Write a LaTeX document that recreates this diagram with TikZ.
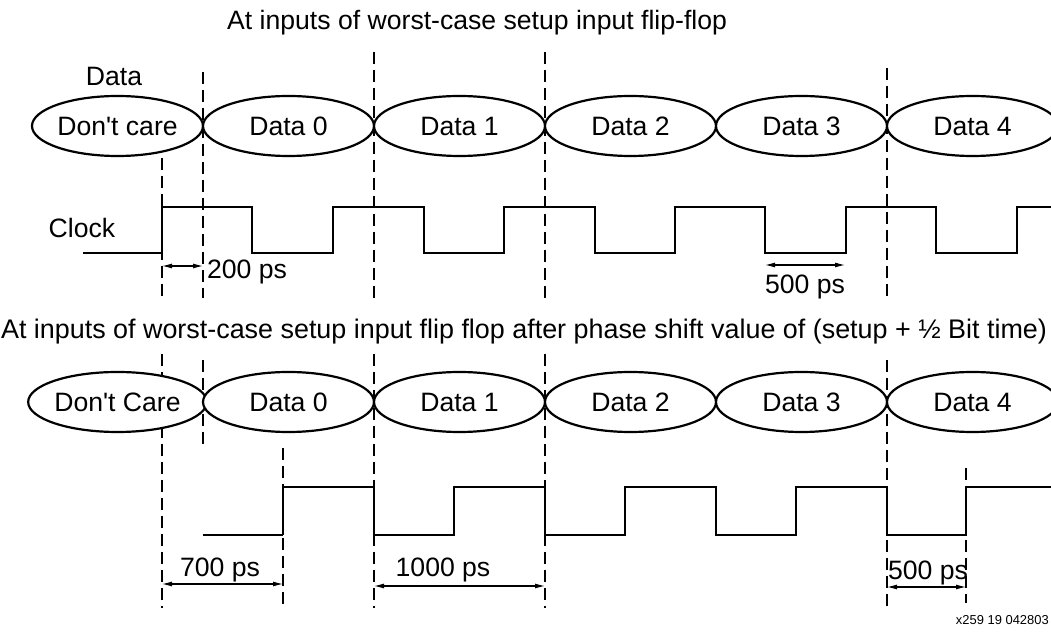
\documentclass[tikz,border=0pt]{standalone}
\usepackage{fontspec}
\setmainfont{Liberation Sans}
\usetikzlibrary{shapes.geometric,arrows.meta}
\tikzset{
  databox/.style={ellipse,draw,fill=white,line width=2.2bp,minimum width=171bp,minimum height=60bp,inner sep=0pt},
  clockline/.style={line width=2.2bp,line join=miter},
  guide/.style={line width=1.1bp,dash pattern=on 12bp off 6bp},
  dimline/.style={line width=1.1bp,<->},
  lbl/.style={draw=none,inner sep=0pt,font=\fontsize{26.7}{31}\selectfont},
}
\begin{document}
\begin{tikzpicture}[>={Latex[length=10bp,width=5bp]},line join=bevel,]
\useasboundingbox (0bp,0bp) rectangle (1051bp,636bp);
%% top half
\node (title_a) at (227bp,613bp) [lbl,anchor=west] {At inputs of worst-case setup input flip-flop};
\node (data_lbl) at (114bp,560bp) [lbl] {Data};
\node (clock_lbl) at (82bp,408bp) [lbl] {Clock};
  \draw [guide] (162bp,496bp) -- (162bp,338bp);
  \draw [guide] (203bp,564bp) -- (203bp,338bp);
  \draw [guide] (374bp,584bp) -- (374bp,338bp);
  \draw [guide] (545bp,584bp) -- (545bp,338bp);
  \draw [guide] (887bp,568bp) -- (887bp,338bp);
\node (top_0) at (117.5bp,510bp) [databox,lbl,draw] {Don\textquotesingle t care};
\node (top_1) at (288.5bp,510bp) [databox,lbl,draw] {Data 0};
\node (top_2) at (459.5bp,510bp) [databox,lbl,draw] {Data 1};
\node (top_3) at (630.5bp,510bp) [databox,lbl,draw] {Data 2};
\node (top_4) at (801.5bp,510bp) [databox,lbl,draw] {Data 3};
\node (top_5) at (972.5bp,510bp) [databox,lbl,draw] {Data 4};
  \draw [clockline] (83bp,383bp) -- (162bp,383bp) -- (162bp,429bp) -- (252bp,429bp) -- (252bp,383bp)
    -- (333bp,383bp) -- (333bp,429bp) -- (424bp,429bp) -- (424bp,383bp)
    -- (504bp,383bp) -- (504bp,429bp) -- (595bp,429bp) -- (595bp,383bp)
    -- (675bp,383bp) -- (675bp,429bp) -- (765bp,429bp) -- (765bp,383bp)
    -- (846bp,383bp) -- (846bp,429bp) -- (936bp,429bp) -- (936bp,383bp)
    -- (1017bp,383bp) -- (1017bp,429bp) -- (1051bp,429bp);
\coordinate (d200_a) at (162bp,370bp);
\coordinate (d200_b) at (203bp,370bp);
\coordinate (d500_a) at (765bp,371bp);
\coordinate (d500_b) at (845bp,371bp);
  \draw [dimline] (d200_a) -- (d200_b);
  \draw [dimline] (d500_a) -- (d500_b);
\node (t200) at (247bp,364bp) [lbl] {200 ps};
\node (t500) at (805bp,349bp) [lbl] {500 ps};
%% bottom half
\node (title_b) at (524bp,304bp) [lbl,font=\fontsize{27}{31}\selectfont] {At inputs of worst-case setup input flip flop after phase shift value of (setup + ½ Bit time)};
  \draw [guide] (162bp,282bp) -- (162bp,28bp);
  \draw [guide] (203bp,276bp) -- (203bp,189bp);
  \draw [guide] (283bp,188bp) -- (283bp,28bp);
  \draw [guide] (374bp,282bp) -- (374bp,28bp);
  \draw [guide] (545bp,282bp) -- (545bp,28bp);
  \draw [guide] (887bp,276bp) -- (887bp,28bp);
  \draw [guide] (966bp,168bp) -- (966bp,33bp);
\node (bot_0) at (117.5bp,234bp) [databox,lbl,draw] {Don\textquotesingle t Care};
\node (bot_1) at (288.5bp,234bp) [databox,lbl,draw] {Data 0};
\node (bot_2) at (459.5bp,234bp) [databox,lbl,draw] {Data 1};
\node (bot_3) at (630.5bp,234bp) [databox,lbl,draw] {Data 2};
\node (bot_4) at (801.5bp,234bp) [databox,lbl,draw] {Data 3};
\node (bot_5) at (972.5bp,234bp) [databox,lbl,draw] {Data 4};
  \draw [line width=1.1bp] (203bp,101bp) -- (283bp,101bp);
  \draw [clockline] (283bp,101bp) -- (283bp,149bp) -- (374bp,149bp) -- (374bp,101bp)
    -- (454bp,101bp) -- (454bp,149bp) -- (545bp,149bp) -- (545bp,101bp)
    -- (625bp,101bp) -- (625bp,149bp) -- (716bp,149bp) -- (716bp,101bp)
    -- (796bp,101bp) -- (796bp,149bp) -- (887bp,149bp) -- (887bp,101bp)
    -- (966bp,101bp) -- (966bp,149bp) -- (1051bp,149bp);
\coordinate (d700_a) at (162bp,52bp);
\coordinate (d700_b) at (283bp,52bp);
\coordinate (d1000_a) at (374bp,50bp);
\coordinate (d1000_b) at (545bp,50bp);
\coordinate (d500b_a) at (887bp,49bp);
\coordinate (d500b_b) at (966bp,49bp);
  \draw [dimline] (d700_a) -- (d700_b);
  \draw [dimline] (d1000_a) -- (d1000_b);
  \draw [dimline] (d500b_a) -- (d500b_b);
\node (t700) at (220bp,66bp) [lbl] {700 ps};
\node (t1000) at (443bp,66bp) [lbl] {1000 ps};
\node (t500b) at (928bp,63bp) [lbl] {500 ps};
\node (fig_id) at (1049bp,16bp) [lbl,anchor=east,font=\fontsize{13}{15}\selectfont] {x259 19 042803};
%
\end{tikzpicture}
\end{document}
